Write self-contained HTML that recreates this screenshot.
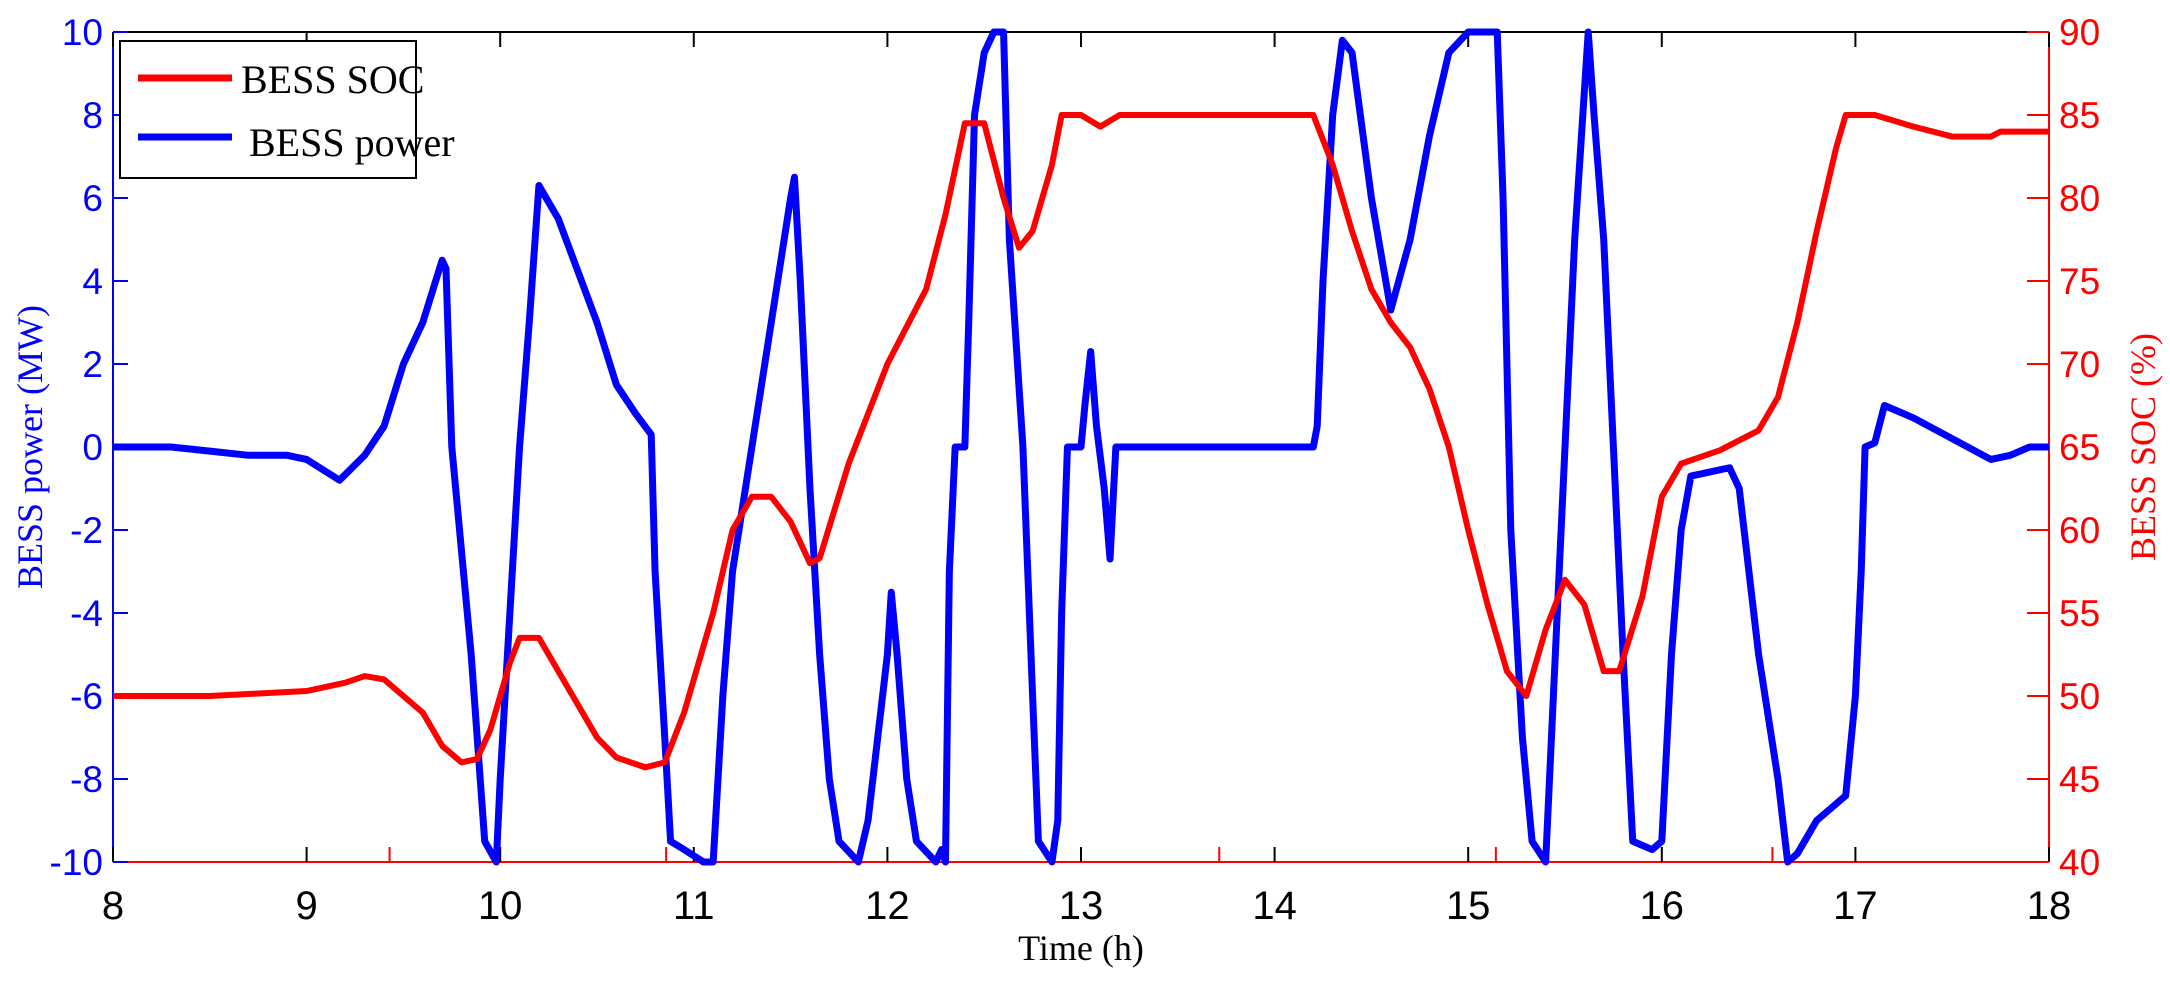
<!DOCTYPE html>
<html><head><meta charset="utf-8"><style>
html,body{margin:0;padding:0;background:#fff;}
svg{display:block;}
</style></head><body>
<svg id="chart" width="2170" height="985" xmlns="http://www.w3.org/2000/svg"></svg>
<script>
const powerT=[8,8.3,8.5,8.7,8.9,9.0,9.17,9.3,9.4,9.5,9.6,9.7,9.72,9.75,9.85,9.92,9.98,10.0,10.05,10.1,10.15,10.2,10.3,10.5,10.6,10.7,10.78,10.8,10.85,10.88,10.95,11.05,11.1,11.15,11.2,11.3,11.4,11.5,11.52,11.55,11.6,11.65,11.7,11.75,11.85,11.9,11.95,12.0,12.02,12.05,12.1,12.15,12.25,12.28,12.3,12.32,12.35,12.4,12.42,12.45,12.5,12.55,12.6,12.63,12.7,12.75,12.78,12.85,12.88,12.9,12.93,13.0,13.02,13.05,13.08,13.12,13.15,13.18,13.3,14.2,14.22,14.25,14.3,14.35,14.4,14.5,14.6,14.7,14.8,14.9,15.0,15.15,15.18,15.22,15.28,15.33,15.4,15.45,15.5,15.55,15.62,15.65,15.7,15.75,15.8,15.85,15.95,16.0,16.05,16.1,16.15,16.25,16.35,16.4,16.5,16.6,16.65,16.7,16.8,16.95,17.0,17.03,17.05,17.1,17.15,17.3,17.5,17.7,17.8,17.9,18];
const powerV=[0,0,-0.1,-0.2,-0.2,-0.3,-0.8,-0.2,0.5,2,3,4.5,4.3,0,-5,-9.5,-10,-8,-4,0,3,6.3,5.5,3,1.5,0.8,0.3,-3,-7,-9.5,-9.7,-10,-10,-6,-3,0,3,6,6.5,4,-1,-5,-8,-9.5,-10,-9,-7,-5,-3.5,-5,-8,-9.5,-10,-9.7,-10,-3,0,0,3,8,9.5,10,10,5,0,-6,-9.5,-10,-9,-4,0,0,1,2.3,0.5,-1,-2.7,0,0,0,0.5,4,8,9.8,9.5,6,3.3,5,7.5,9.5,10,10,6,-2,-7,-9.5,-10,-5,0,5,10,8,5,0,-5,-9.5,-9.7,-9.5,-5,-2,-0.7,-0.6,-0.5,-1,-5,-8,-10,-9.8,-9,-8.4,-6,-3,0,0.1,1,0.7,0.2,-0.3,-0.2,0,0];
const socT=[8,8.5,9.0,9.2,9.3,9.4,9.5,9.6,9.7,9.8,9.88,9.95,10.05,10.1,10.2,10.3,10.5,10.6,10.75,10.85,10.95,11.1,11.2,11.3,11.4,11.5,11.6,11.65,11.8,12.0,12.2,12.3,12.4,12.5,12.6,12.68,12.75,12.85,12.9,13.0,13.1,13.2,14.2,14.3,14.4,14.5,14.6,14.7,14.8,14.9,15.0,15.1,15.2,15.3,15.4,15.5,15.6,15.7,15.78,15.9,16.0,16.1,16.3,16.5,16.6,16.7,16.8,16.9,16.95,17.1,17.3,17.5,17.7,17.75,18];
const socV=[50,50,50.3,50.8,51.2,51,50,49,47,46,46.2,48,52,53.5,53.5,51.5,47.5,46.3,45.7,46,49,55,60,62,62,60.5,58,58.3,64,70,74.5,79,84.5,84.5,80,77,78,82,85,85,84.3,85,85,82,78,74.5,72.5,71,68.5,65,60,55.5,51.5,50,54,57,55.5,51.5,51.5,56,62,64,64.8,66,68,72.5,78,83,85,85,84.3,83.7,83.7,84,84];
const xTicks=[8,9,10,11,12,13,14,15,16,17,18];
const powerTicks=[-10,-8,-6,-4,-2,0,2,4,6,8,10];
const socTicks=[40,45,50,55,60,65,70,75,80,85,90];

const L=113,R=2049,T=32,B=862;
const X=t=>L+(t-8)/10*(R-L);
const YP=v=>B-(v+10)/20*(B-T);
const YS=v=>B-(v-40)/50*(B-T);
const svg=document.getElementById('chart');
const NS='http://www.w3.org/2000/svg';
function mk(tag,attrs,text){const e=document.createElementNS(NS,tag);for(const k in attrs)e.setAttribute(k,attrs[k]);if(text!==undefined)e.textContent=text;svg.appendChild(e);return e;}

let e;
e=mk('line',{x1:L,y1:T,x2:R,y2:T,stroke:'#000','stroke-width':2});


e=mk('line',{x1:L,y1:T,x2:L,y2:B,stroke:'#00f','stroke-width':2});


e=mk('line',{x1:R,y1:T,x2:R,y2:B,stroke:'#f00','stroke-width':2});


e=mk('line',{x1:L,y1:B,x2:R,y2:B,stroke:'#f00','stroke-width':2});



xTicks.forEach(t=>{
  e=mk('line',{x1:X(t),y1:T,x2:X(t),y2:T+15,stroke:'#000','stroke-width':2});
  
  
  e=mk('line',{x1:X(t),y1:B,x2:X(t),y2:B-15,stroke:'#000','stroke-width':2});
  
  
  e=mk('text',{x:X(t),y:B+57,'text-anchor':'middle','font-family':'Liberation Sans, sans-serif','font-size':40,fill:'#000'},String(t));
  
  
});
for(let i=1;i<7;i++){const x=L+i*(R-L)/7;
  e=mk('line',{x1:x,y1:B,x2:x,y2:B-15,stroke:'#f00','stroke-width':2});
  
  
}
powerTicks.forEach(v=>{
  e=mk('line',{x1:L,y1:YP(v),x2:L+15,y2:YP(v),stroke:'#00f','stroke-width':2});
  
  
  e=mk('text',{x:L-10,y:YP(v)+13,'text-anchor':'end','font-family':'Liberation Sans, sans-serif','font-size':37,fill:'#00f'},String(v));
  
  
});
socTicks.forEach(v=>{
  e=mk('line',{x1:R,y1:YS(v),x2:R-22,y2:YS(v),stroke:'#f00','stroke-width':2});
  
  
  e=mk('text',{x:R+10,y:YS(v)+13,'text-anchor':'start','font-family':'Liberation Sans, sans-serif','font-size':37,fill:'#f00'},String(v));
  
  
});

e=mk('polyline',{points:powerT.map((t,i)=>X(t)+','+YP(powerV[i])).join(' '),fill:'none',stroke:'#00f','stroke-width':7,'stroke-linejoin':'round'});


e=mk('polyline',{points:socT.map((t,i)=>X(t)+','+YS(socV[i])).join(' '),fill:'none',stroke:'#f00','stroke-width':6,'stroke-linejoin':'round'});



e=mk('rect',{x:120,y:41,width:296,height:137,fill:'#fff',stroke:'#000','stroke-width':2});


e=mk('line',{x1:138,y1:78,x2:232,y2:78,stroke:'#f00','stroke-width':7});


e=mk('text',{x:241,y:93,'font-family':'Liberation Serif, serif','font-size':40,fill:'#000'},'BESS SOC');


e=mk('line',{x1:138,y1:137,x2:232,y2:137,stroke:'#00f','stroke-width':7});


e=mk('text',{x:249,y:156,'font-family':'Liberation Serif, serif','font-size':40,fill:'#000'},'BESS power');



e=mk('text',{x:(L+R)/2,y:960,'text-anchor':'middle','font-family':'Liberation Serif, serif','font-size':36,fill:'#000'},'Time (h)');


e=mk('text',{x:0,y:0,'text-anchor':'middle','font-family':'Liberation Serif, serif','font-size':36,fill:'#00f',transform:'translate(42,447) rotate(-90)'},'BESS power (MW)');


e=mk('text',{x:0,y:0,'text-anchor':'middle','font-family':'Liberation Serif, serif','font-size':36,fill:'#f00',transform:'translate(2155,447) rotate(-90)'},'BESS SOC (%)');


</script>
</body></html>
